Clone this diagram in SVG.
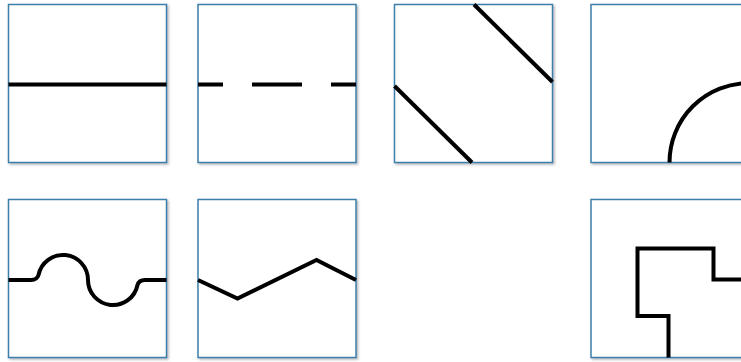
<svg xmlns="http://www.w3.org/2000/svg" width="741" height="362" viewBox="0 0 741 362">
<style>
.tile{fill:#ffffff;stroke:#3d7fab;stroke-width:1.5}
.shadow{fill:none;stroke:#c4c8cc;stroke-width:2}
.ln{fill:none;stroke:#000000;stroke-width:4;stroke-linejoin:miter}
</style>
<defs>
<filter id="sh" x="-5%" y="-5%" width="115%" height="115%">
<feDropShadow dx="1.5" dy="1.5" stdDeviation="1" flood-color="#808890" flood-opacity="0.6"/>
</filter>
</defs>
<rect width="741" height="362" fill="#ffffff"/>
<g id="tile-straight">
<rect class="tile" x="8.5" y="4.5" width="158" height="158" filter="url(#sh)"/>
<line class="ln" x1="8.5" y1="84.5" x2="166.5" y2="84.5"/>
</g>
<g id="tile-dashed">
<rect class="tile" x="198" y="4.5" width="158" height="158" filter="url(#sh)"/>
<line class="ln" x1="198" y1="84.5" x2="356" y2="84.5" stroke-dasharray="50 29" stroke-dashoffset="25"/>
</g>
<g id="tile-diagonal">
<rect class="tile" x="394.5" y="4.5" width="158" height="158" filter="url(#sh)"/>
<line class="ln" x1="474" y1="4.5" x2="552.5" y2="82"/>
<line class="ln" x1="394.5" y1="86" x2="472" y2="162.5"/>
</g>
<g id="tile-arc">
<rect class="tile" x="591" y="4.5" width="158" height="158" filter="url(#sh)"/>
<path class="ln" d="M669.5,162.5 A79.5,79.5 0 0 1 749,83"/>
</g>
<g id="tile-wave">
<rect class="tile" x="8.5" y="199.5" width="158" height="158" filter="url(#sh)"/>
<path class="ln" d="M8.5,280 H31 Q37,280 38.5,275 A25,25 0 0 1 88,280 A25,25 0 0 0 137.5,285 Q139,280 145,280 H166.5"/>
</g>
<g id="tile-zigzag">
<rect class="tile" x="198" y="199.5" width="158" height="158" filter="url(#sh)"/>
<path class="ln" d="M198,280 L237.5,298.5 L316.5,260 L356,280"/>
</g>
<g id="tile-steps">
<rect class="tile" x="591" y="199.5" width="158" height="158" filter="url(#sh)"/>
<path class="ln" d="M668.5,357.5 V316 H637.5 V248.5 H713.5 V279.5 H749"/>
</g>
</svg>
